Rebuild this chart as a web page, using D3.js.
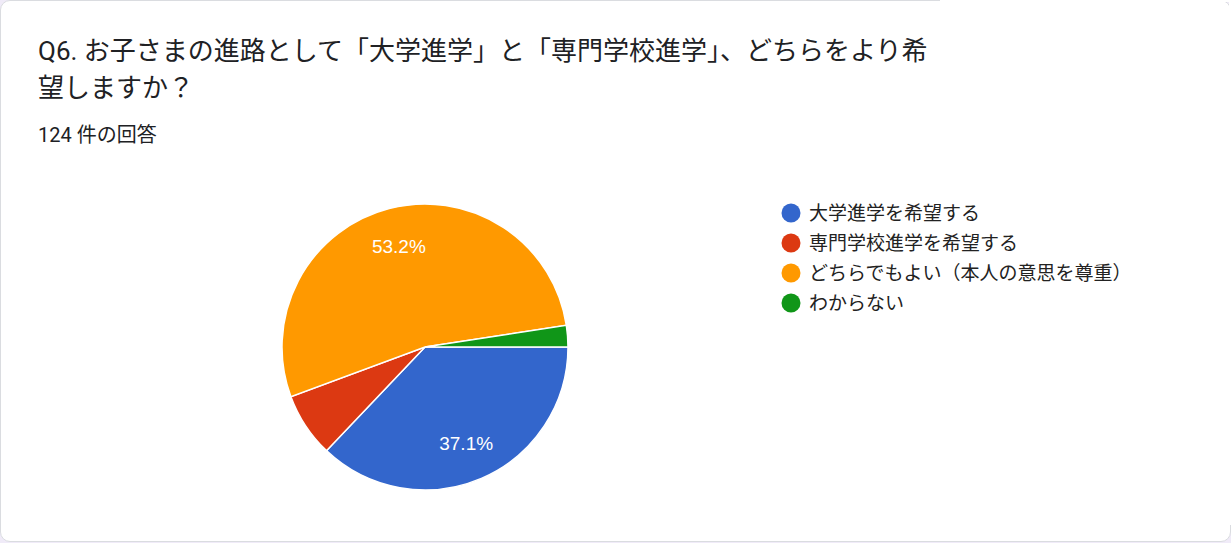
<!DOCTYPE html>
<html>
<head>
<meta charset="utf-8">
<script src="https://cdn.jsdelivr.net/npm/d3@7"></script>
<style>
  html, body { margin: 0; padding: 0; background: #f0ebf8; }
  #card {
    position: absolute; left: 0; top: 0;
    width: 1229px; height: 540px;
    background: #fff;
    border: 1px solid #dadce0;
    border-radius: 10px;
    overflow: hidden;
  }
  /* the reference shows no top border past x=940 and no right border */
  #mask1 { position: absolute; left: 940px; top: 0; width: 300px; height: 2px; background: #fff; }
  #mask2 { position: absolute; left: 1229px; top: 0; width: 3px; height: 525px; background: #fff; }
  svg { position: absolute; left: 0; top: 0; }
</style>
</head>
<body>
<div id="card"></div>
<div id="mask1"></div>
<div id="mask2"></div>
<svg id="chart" width="1231" height="543"></svg>
<script>
// data (124 answers)
var titleLines = ['Q6. お子さまの進路として「大学進学」と「専門学校進学」、どちらをより希', '望しますか？'],
    subtitle = '124 件の回答',
    categories = ['大学進学を希望する', '専門学校進学を希望する', 'どちらでもよい（本人の意思を尊重）', 'わからない'],
    counts = [46, 9, 66, 3],
    colors = ['#3366cc', '#dc3912', '#ff9900', '#109618'];

var fontStack = 'Roboto, "Noto Sans CJK JP", sans-serif',
    svg = d3.select('#chart'),
    total = d3.sum(counts),
    cx = 425, cy = 347, radius = 143;

// title + response count
svg.append('text')
    .attr('x', 38)
    .attr('y', 60)
    .attr('font-family', fontStack)
    .attr('font-size', 26)
    .attr('fill', '#202124')
    .selectAll('tspan')
    .data(titleLines)
    .enter().append('tspan')
    .attr('x', 38)
    .attr('dy', function (d, i) { return i === 0 ? 0 : 37; })
    .text(function (d) { return d; });

svg.append('text')
    .attr('x', 38)
    .attr('y', 142)
    .attr('font-family', fontStack)
    .attr('font-size', 20)
    .attr('fill', '#202124')
    .text(subtitle);

// pie, starting at 3 o'clock and going clockwise like Google Charts
var pie = d3.pie()
    .sort(null)
    .startAngle(Math.PI / 2)
    .endAngle(Math.PI / 2 + 2 * Math.PI);

var arc = d3.arc().innerRadius(0).outerRadius(radius),
    labelArc = d3.arc().innerRadius(radius * 0.73).outerRadius(radius * 0.73),
    arcs = pie(counts);

var g = svg.append('g').attr('transform', 'translate(' + cx + ',' + cy + ')');

g.selectAll('path')
    .data(arcs)
    .enter().append('path')
    .attr('d', arc)
    .attr('fill', function (d, i) { return colors[i]; })
    .attr('stroke', '#fff')
    .attr('stroke-width', 1.5);

// only the big slices get a label
g.selectAll('text.pct')
    .data(arcs.filter(function (d) { return d.value / total >= 0.1; }))
    .enter().append('text')
    .attr('class', 'pct')
    .attr('transform', function (d) { return 'translate(' + labelArc.centroid(d) + ')'; })
    .attr('text-anchor', 'middle')
    .attr('dy', '0.36em')
    .attr('font-family', 'Arial, "Liberation Sans", sans-serif')
    .attr('font-size', 19)
    .attr('fill', '#fff')
    .text(function (d) { return (d.value / total * 100).toFixed(1) + '%'; });

// legend
var legend = svg.append('g')
    .selectAll('g')
    .data(categories)
    .enter().append('g')
    .attr('transform', function (d, i) { return 'translate(791,' + (213 + i * 30) + ')'; });

legend.append('circle')
    .attr('r', 9.5)
    .attr('fill', function (d, i) { return colors[i]; });

legend.append('text')
    .attr('x', 18)
    .attr('dy', '0.35em')
    .attr('font-family', fontStack)
    .attr('font-size', 19)
    .attr('fill', '#222')
    .text(function (d) { return d; });
</script>
</body>
</html>
